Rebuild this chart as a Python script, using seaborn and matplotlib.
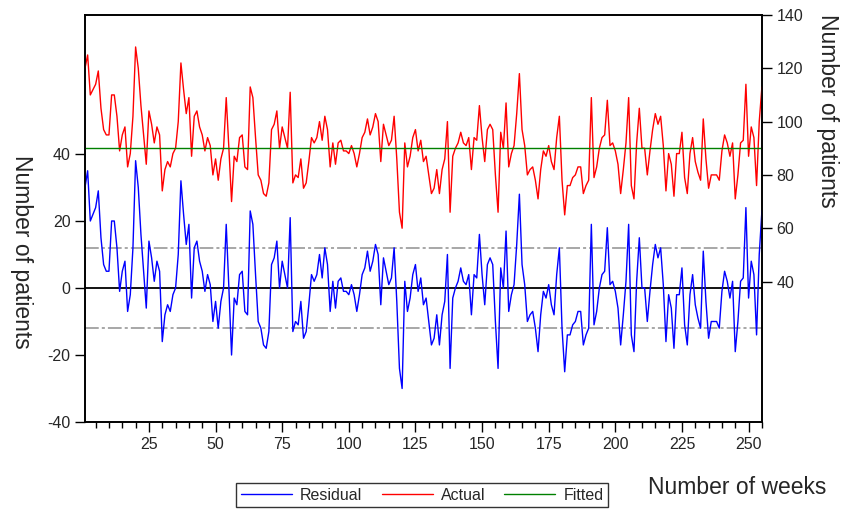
import numpy as np
import pandas as pd
import matplotlib
matplotlib.use("Agg")
import matplotlib.pyplot as plt
import seaborn as sns
from matplotlib.lines import Line2D

sns.set_theme(style="ticks")
plt.rcParams["font.family"] = ["Liberation Sans", "DejaVu Sans"]
plt.rcParams["axes.unicode_minus"] = False

# residuals, week 1..255
residual = [
    30, 35, 20, 22, 24, 29, 15, 7, 5, 5, 20, 20, 12, -1, 5, 8, -7, -2, 12, 38,
    30, 16, 5, -6, 14, 9, 2, 8, 5, -16, -8, -5, -7, -2, 0, 10, 32, 22, 13, 19,
    -3, 12, 14, 8, 5, -1, 4, 1, -10, -4, -12, -4, 0, 19, 0, -20, -3, -5, 4, 5,
    -7, -8, 23, 19, 4, -10, -12, -17, -18, -13, 7, 9, 14, 0, 8, 4, 0, 21, -13, -10,
    -11, -4, -15, -13, -5, 4, 2, 4, 10, 3, 12, 7, -7, 2, -6, 2, 3, -1, -1, -2,
    1, -2, -7, -2, 4, 6, 11, 5, 8, 13, 10, -5, 9, 5, 1, 3, 12, -4, -24, -30,
    2, -7, -3, 4, 7, -1, 3, -5, -3, -10, -17, -15, -8, -17, -8, -4, 10, -24, -3, 0,
    2, 6, 2, 1, 4, -8, 4, 3, 16, 4, -5, 7, 9, 7, -10, -24, 6, 0, 17, -7,
    -2, 1, 13, 28, 7, 1, -10, -8, -7, -12, -19, -8, -1, -3, 1, -5, -8, 4, 12, -12,
    -25, -14, -14, -11, -10, -7, -7, -17, -14, -12, 19, -11, -7, 0, 4, 5, 18, 1, 2, -1,
    -6, -17, -8, 2, 19, -14, -19, 2, 15, 0, 0, -10, -1, 7, 13, 9, 12, 1, -16, -2,
    -6, -18, -2, -2, 6, -11, -17, -2, 4, -5, -9, -12, 11, -4, -15, -10, -10, -10, -12, -1,
    5, 2, -3, 2, -19, -10, 2, 3, 24, -3, 8, 4, -14, 10, 23,
]
fitted_level = 90
resid_sd = 12
left_ticks = [-40, -20, 0, 20, 40]
right_ticks = [40, 60, 80, 100, 120, 140]
week_ticks = [25, 50, 75, 100, 125, 150, 175, 200, 225, 250]

weeks = np.arange(1, len(residual) + 1)
df = pd.DataFrame({"week": weeks, "residual": residual})
df["fitted"] = fitted_level
df["actual"] = df["fitted"] + df["residual"]

fig = plt.figure(figsize=(8.43, 5.13), dpi=100)
ax = fig.add_axes([0.1008, 0.1774, 0.803, 0.7934])
ax2 = ax.twinx()

# residual on left axis
ax.axhline(0, color="black", linewidth=1.3, zorder=1)
for lvl in (resid_sd, -resid_sd):
    ax.axhline(lvl, color="#909090", linewidth=1.1, dashes=(9, 2, 2, 2), zorder=1)
sns.lineplot(data=df, x="week", y="residual", ax=ax, color="#0000ff", linewidth=1.0, zorder=3)

# actual / fitted on right axis
sns.lineplot(data=df, x="week", y="actual", ax=ax2, color="#ff0000", linewidth=1.0)
sns.lineplot(data=df, x="week", y="fitted", ax=ax2, color="#008000", linewidth=1.0)

ax.set_xlim(1, len(residual))
ax.set_ylim(-40, 81.5)
ax2.set_ylim(-12.7, 140)
ax.set_yticks(left_ticks)
ax2.set_yticks(right_ticks)
ax.set_xticks(week_ticks)
ax.set_xticks(np.arange(5, len(residual) + 1, 5), minor=True)

for a in (ax, ax2):
    a.set_xlabel("")
    a.set_ylabel("")
    for sp in a.spines.values():
        sp.set_visible(True)
        sp.set_color("black")
        sp.set_linewidth(1.2)
ax.tick_params(axis="both", which="major", labelsize=11.5, length=7, width=1, color="black")
ax.tick_params(axis="x", which="minor", length=4, width=1, color="black")
ax.tick_params(axis="y", right=False)
ax2.tick_params(axis="y", labelsize=11.5, length=7, width=1, color="black")

fig.text(0.026, 0.509, "Number of patients", rotation=-90, ha="center", va="center", fontsize=16.5)
fig.text(0.982, 0.784, "Number of patients", rotation=-90, ha="center", va="center", fontsize=16.5)
fig.text(0.769, 0.049, "Number of weeks", ha="left", va="center", fontsize=16.5)

handles = [
    Line2D([], [], color="#0000ff", linewidth=1.0),
    Line2D([], [], color="#ff0000", linewidth=1.0),
    Line2D([], [], color="#008000", linewidth=1.0),
]
leg = fig.legend(handles, ["Residual", "Actual", "Fitted"], loc="center",
                 bbox_to_anchor=(0.501, 0.035), ncol=3, fontsize=11.5,
                 frameon=True, fancybox=False, handlelength=3.2, handletextpad=0.5,
                 columnspacing=1.2, borderpad=0.3)
leg.get_frame().set_edgecolor("black")
leg.get_frame().set_linewidth(1.0)

fig.savefig("out.png", dpi=100)
